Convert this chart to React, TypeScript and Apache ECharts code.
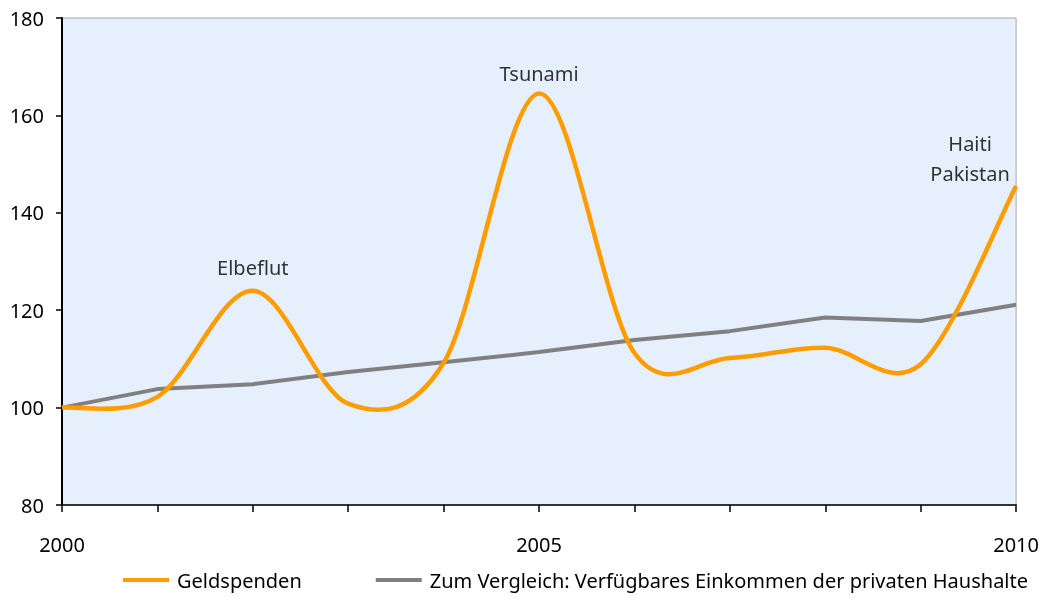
import React, { useEffect, useRef } from "react";
import * as echarts from "echarts";

const years = [2000, 2001, 2002, 2003, 2004, 2005, 2006, 2007, 2008, 2009, 2010];
const spenden = [100, 102.2, 124, 100.8, 109.2, 164.5, 111.2, 110.2, 112.3, 108.9, 145.5];
const einkommen = [100, 103.8, 104.8, 107.3, 109.3, 111.4, 113.9, 115.7, 118.5, 117.8, 121.1];
const yTicks = { min: 80, max: 180, interval: 20 };
const xLabelYears = [2000, 2005, 2010];
const annotations = [
  { year: 2002, text: "Elbeflut" },
  { year: 2005, text: "Tsunami" },
  { year: 2010, text: "Haiti\nPakistan" },
];

const FONT = "'Noto Sans', sans-serif";
const FS = 20;

// Smooth (Catmull-Rom style) curve through given pixel points
const SmoothCurve = echarts.graphic.extendShape({
  shape: { points: [] as number[][] },
  buildPath(ctx: any, shape: any) {
    const p = shape.points as number[][];
    if (!p || p.length < 2) return;
    ctx.moveTo(p[0][0], p[0][1]);
    for (let i = 0; i < p.length - 1; i++) {
      const p0 = p[i - 1] || p[i];
      const p1 = p[i];
      const p2 = p[i + 1];
      const p3 = p[i + 2] || p[i + 1];
      const c1x = p1[0] + (p2[0] - p0[0]) / 6;
      const c1y = p1[1] + (p2[1] - p0[1]) / 6;
      const c2x = p2[0] - (p3[0] - p1[0]) / 6;
      const c2y = p2[1] - (p3[1] - p1[1]) / 6;
      ctx.bezierCurveTo(c1x, c1y, c2x, c2y, p2[0], p2[1]);
    }
  },
});
echarts.graphic.registerShape("smoothCurve", SmoothCurve as any);

export default function App() {
  const ref = useRef<HTMLDivElement>(null);
  useEffect(() => {
    if (!ref.current) return;
    const chart = echarts.init(ref.current, null, { renderer: "svg" });
    const orangeData = years.map((y, i) => [y, spenden[i]]);
    chart.setOption({
      animation: false,
      textStyle: { fontFamily: FONT },
      grid: {
        left: 62,
        top: 18,
        right: 24,
        bottom: 97,
        show: true,
        backgroundColor: "#E6F0FD",
        borderColor: "#A8A8A8",
        borderWidth: 1,
      },
      legend: {
        left: 123,
        top: 570,
        padding: 0,
        itemGap: 74,
        itemWidth: 46,
        itemHeight: 4,
        icon: "rect",
        textStyle: { fontSize: FS, color: "#000", fontFamily: FONT, padding: [0, 0, 0, 3] },
        data: ["Geldspenden", "Zum Vergleich: Verfügbares Einkommen der privaten Haushalte"],
      },
      xAxis: {
        type: "value",
        min: 2000,
        max: 2010,
        interval: 1,
        axisLine: { show: true, lineStyle: { color: "#000", width: 1.5 } },
        axisTick: { show: true, length: 7, lineStyle: { color: "#000", width: 1.5 } },
        splitLine: { show: false },
        axisLabel: {
          margin: 29,
          fontSize: FS,
          color: "#000",
          fontFamily: FONT,
          formatter: (v: number) => (xLabelYears.indexOf(v) >= 0 ? String(v) : ""),
        },
      },
      yAxis: {
        type: "value",
        min: yTicks.min,
        max: yTicks.max,
        interval: yTicks.interval,
        axisLine: { show: true, lineStyle: { color: "#000", width: 2 } },
        axisTick: { show: true, length: 6, lineStyle: { color: "#000", width: 1.5 } },
        splitLine: { show: false },
        axisLabel: { margin: 18, fontSize: FS, color: "#000", fontFamily: FONT },
      },
      series: [
        {
          name: "Zum Vergleich: Verfügbares Einkommen der privaten Haushalte",
          type: "line",
          data: years.map((y, i) => [y, einkommen[i]]),
          symbol: "none",
          color: "#808080",
          lineStyle: { color: "#808080", width: 4 },
          z: 2,
        },
        {
          name: "Geldspenden",
          type: "custom",
          color: "#FF9C00",
          itemStyle: { color: "#FF9C00" },
          data: orangeData,
          encode: { x: 0, y: 1 },
          z: 3,
          renderItem: (params: any, api: any) => {
            if (params.dataIndex !== 0) return null;
            const pts = orangeData.map((d) => api.coord(d));
            return {
              type: "smoothCurve",
              shape: { points: pts },
              style: { stroke: "#FF9C00", lineWidth: 4.5, fill: null },
            };
          },
        },
        {
          name: "annot",
          type: "scatter",
          symbolSize: 0,
          silent: true,
          data: annotations.map((a) => ({
            value: [a.year, spenden[years.indexOf(a.year)]],
            label: {
              show: true,
              formatter: a.text,
              position: "top",
              distance: a.year === 2010 ? -2 : a.year === 2005 ? 5 : 8,
              offset: a.year === 2010 ? [-46, 0] : [0, 0],
              fontSize: FS,
              lineHeight: 30,
              color: "#000",
              fontFamily: FONT,
            },
          })),
          z: 4,
        },
      ],
    });
    return () => chart.dispose();
  }, []);
  return (
    <div
      ref={ref}
      style={{ position: "fixed", left: 0, top: 0, width: 1042, height: 602 }}
    />
  );
}
